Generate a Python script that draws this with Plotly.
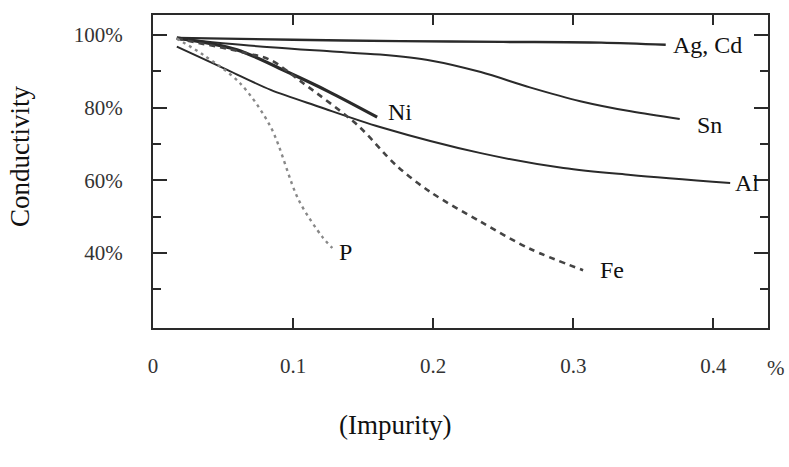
import plotly.graph_objects as go

# ---- data (impurity %, conductivity %) ----
ag_x = [0.017, 0.10, 0.176, 0.25, 0.32, 0.366]
ag_y = [99.2, 98.7, 98.3, 98.1, 97.9, 97.3]

sn_x = [0.017, 0.084, 0.126, 0.162, 0.198, 0.234, 0.269, 0.305, 0.341, 0.376]
sn_y = [99.0, 96.6, 95.5, 94.6, 93.0, 89.8, 85.6, 81.8, 79.0, 76.9]

ni_x = [0.017, 0.06, 0.096, 0.125, 0.16]
ni_y = [99.2, 95.9, 89.8, 84.5, 77.4]

al_x = [0.017, 0.053, 0.084, 0.119, 0.162, 0.234, 0.293, 0.341, 0.412]
al_y = [96.8, 90.4, 84.9, 80.2, 74.7, 67.5, 63.4, 61.5, 59.3]

fe_x = [0.017, 0.067, 0.084, 0.107, 0.146, 0.174, 0.198, 0.234, 0.269, 0.307]
fe_y = [99.0, 95.0, 93.1, 86.8, 75.2, 64.0, 56.8, 48.6, 41.2, 35.3]

p_x = [0.017, 0.036, 0.062, 0.084, 0.104, 0.121, 0.128]
p_y = [99.0, 94.5, 86.8, 74.7, 54.6, 44.4, 41.4]

x_ticks = [0, 0.1, 0.2, 0.3, 0.4]
x_tick_labels = ["0", "0.1", "0.2", "0.3", "0.4"]
y_ticks = [40, 60, 80, 100]
y_tick_labels = ["40%", "60%", "80%", "100%"]

labels = ["Ag, Cd", "Sn", "Al", "Ni", "Fe", "P"]
label_x = [0.370, 0.387, 0.414, 0.166, 0.318, 0.131]
label_y = [97.3, 75.2, 59.3, 78.8, 35.3, 40.3]

FONT = "Liberation Serif"
INK = "#2a2a2a"

fig = go.Figure()

def add(x, y, width, dash="solid", color=INK):
    fig.add_trace(go.Scatter(
        x=x, y=y, mode="lines",
        line=dict(color=color, width=width, dash=dash, shape="spline", smoothing=0.9),
        showlegend=False, hoverinfo="skip"))

add(ag_x, ag_y, 2.4)
add(sn_x, sn_y, 2.0)
add(al_x, al_y, 2.0)
add(ni_x, ni_y, 3.2)
add(fe_x, fe_y, 2.6, dash="6px,5px", color="#444444")
add(p_x, p_y, 2.4, dash="3px,4px", color="#888888")

L, R, T, B = 153, 21, 15, 139
W, H = 789, 467
pw, ph = W - L - R, H - T - B

for t, x, y in zip(labels, label_x, label_y):
    fig.add_annotation(x=x, y=y, xref="x", yref="y", text=t, showarrow=False,
                       xanchor="left", yanchor="middle",
                       font=dict(family=FONT, size=24, color="#111"))

fig.add_annotation(x=(765 - L) / pw, y=(H - B - 368) / ph, xref="paper", yref="paper",
                   text="%", showarrow=False, xanchor="left", yanchor="middle",
                   font=dict(family=FONT, size=21, color="#333"))
fig.add_annotation(x=(20 - L) / pw, y=(H - B - 157) / ph, xref="paper", yref="paper",
                   text="Conductivity", showarrow=False, textangle=-90,
                   xanchor="center", yanchor="middle",
                   font=dict(family=FONT, size=27, color="#111"))
fig.add_annotation(x=(395 - L) / pw, y=(H - B - 425) / ph, xref="paper", yref="paper",
                   text="(Impurity)", showarrow=False, xanchor="center", yanchor="middle",
                   font=dict(family=FONT, size=27, color="#111"))

fig.update_layout(
    width=W, height=H,
    margin=dict(l=L, r=R, t=T, b=B, pad=0),
    paper_bgcolor="white", plot_bgcolor="white",
    font=dict(family=FONT, color="#333"),
    xaxis=dict(range=[0, 0.439], tickvals=x_ticks, ticktext=x_tick_labels,
               ticks="inside", ticklen=10, tickwidth=2, tickcolor=INK,
               showline=True, linewidth=2, linecolor=INK, mirror="ticks",
               showgrid=False, zeroline=False, ticklabelstandoff=18,
               tickfont=dict(family=FONT, size=21, color="#333")),
    yaxis=dict(range=[19.4, 105.5], tickvals=y_ticks, ticktext=y_tick_labels,
               ticks="inside", ticklen=14, tickwidth=2, tickcolor=INK,
               minor=dict(ticks="inside", tickvals=[30, 50, 70, 90], ticklen=8,
                          tickwidth=2, tickcolor=INK),
               showline=True, linewidth=2, linecolor=INK, mirror="ticks",
               showgrid=False, zeroline=False, ticklabelstandoff=24,
               tickfont=dict(family=FONT, size=21, color="#333")),
)

fig.write_html("out.html", config={"displayModeBar": False},
               post_script="document.body.style.margin='0';document.body.style.overflow='hidden';")
